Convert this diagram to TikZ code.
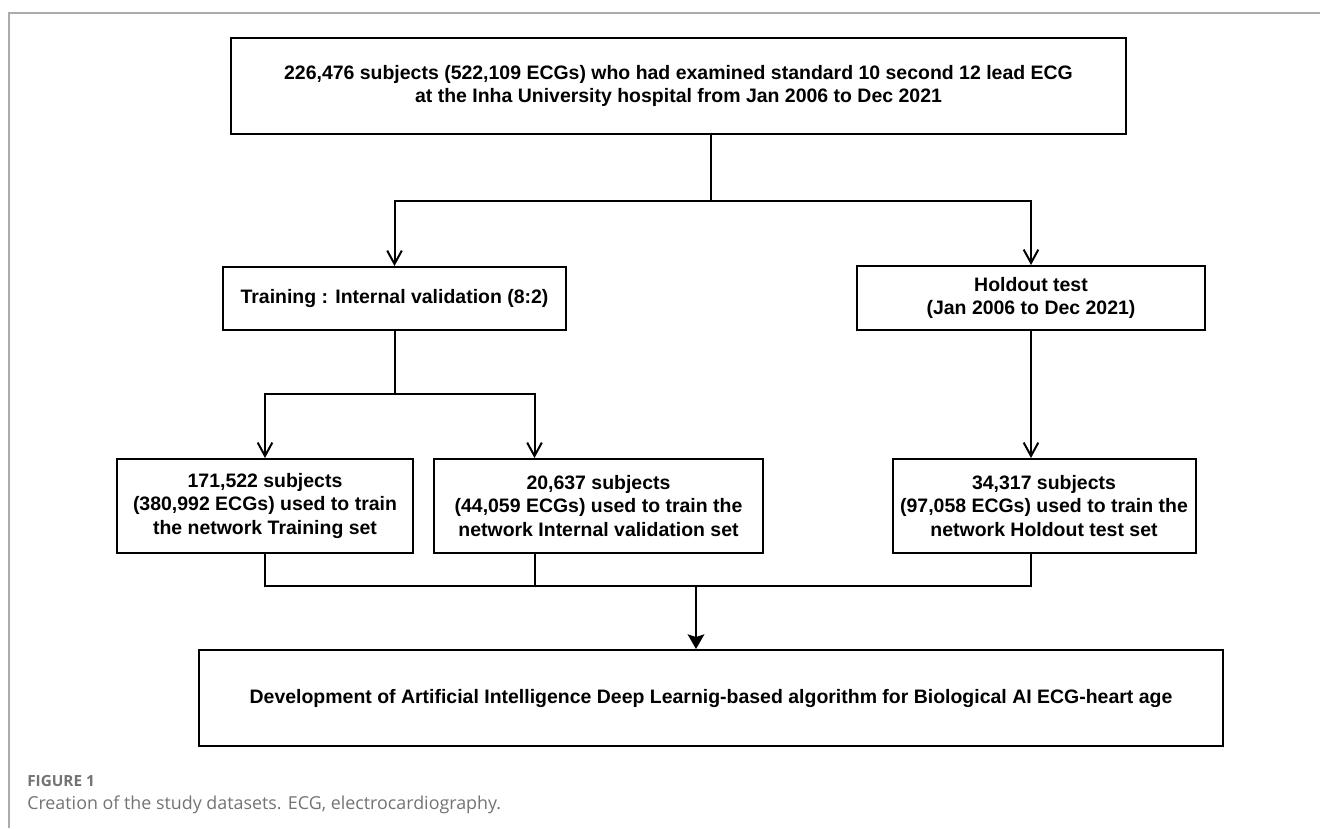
\documentclass[tikz,border=0pt]{standalone}
\usepackage{fontspec}
\setmainfont{Liberation Sans}
\newfontfamily\capfont{Open Sans}
\usetikzlibrary{arrows.meta,calc}
\begin{document}
\begin{tikzpicture}[x=0.75pt,y=-0.75pt,
  box/.style={draw,line width=1.5pt,align=center,inner sep=0pt,
    font=\bfseries\fontsize{14.6}{17.8}\selectfont},
  conn/.style={line width=1.5pt},
  vhead/.style={conn,-{Straight Barb[length=10pt,width=11pt,line width=1.5pt]}},
  fhead/.style={conn,-{Stealth[length=11pt,width=12.5pt,inset=2pt]}},
  frame/.style={draw=black!33,line width=1pt},
  capt/.style={anchor=west,inner sep=0pt,text=black!55}]
\useasboundingbox (0,0) rectangle (1320,828);
\draw[frame] (1320,13) -- (9,13) -- (9,828);

\node[box,minimum width={0.75pt*895},minimum height={0.75pt*96}] (top) at (678.5,86)
  {226,476 subjects (522,109 ECGs) who had examined standard 10 second 12 lead ECG\\
   at the Inha University hospital from Jan 2006 to Dec 2021};
\node[box,minimum width={0.75pt*343},minimum height={0.75pt*63}] (train) at (394.5,298.5)
  {Training : Internal validation (8:2)};
\node[box,minimum width={0.75pt*348},minimum height={0.75pt*64}] (hold) at (1031,298)
  {Holdout test\\(Jan 2006 to Dec 2021)};
\node[box,minimum width={0.75pt*296},minimum height={0.75pt*94}] (b1) at (265,506)
  {171,522 subjects\\(380,992 ECGs) used to train\\the network Training set};
\node[box,minimum width={0.75pt*329},minimum height={0.75pt*94}] (b2) at (598.5,506)
  {20,637 subjects\\(44,059 ECGs) used to train the\\network Internal validation set};
\node[box,minimum width={0.75pt*303},minimum height={0.75pt*94}] (b3) at (1044,506)
  {34,317 subjects\\(97,058 ECGs) used to train the\\network Holdout test set};
\node[box,minimum width={0.75pt*1024},minimum height={0.75pt*96}] (fin) at (711,698)
  {Development of Artificial Intelligence Deep Learnig-based algorithm for Biological AI ECG-heart age};

% level 1
\coordinate (s1) at (711,201);
\draw[conn] (top.south -| s1) -- (s1);
\draw[vhead] (s1) -| (train.north);
\draw[vhead] (s1) -| (hold.north);
% level 2
\coordinate (s2) at ($(train.south)+(0,63)$);
\coordinate (b2in) at ($(b2.north)+(-64,0)$);
\coordinate (b2out) at ($(b2.south)+(-64,0)$);
\draw[conn] (train.south) -- (s2);
\draw[vhead] (s2) -| (b1.north);
\draw[vhead] (s2) -| (b2in);
\draw[vhead] (hold.south) -- (hold.south |- b3.north);
% level 3
\coordinate (s3) at (696,586);
\draw[conn] (b1.south) |- (s3 -| hold.south) -- (hold.south |- b3.south);
\draw[conn] (b2out) -- (b2out |- s3);
\draw[fhead] (s3) -- (s3 |- fin.north);

\node[capt,font=\capfont\bfseries\fontsize{11.5}{13}\selectfont] (fig) at (27,781) {FIGURE 1};
\node[capt,font=\capfont\fontsize{13.4}{15}\selectfont] (cap) at (27,805)
  {Creation of the study datasets. ECG, electrocardiography.};
\end{tikzpicture}
\end{document}
